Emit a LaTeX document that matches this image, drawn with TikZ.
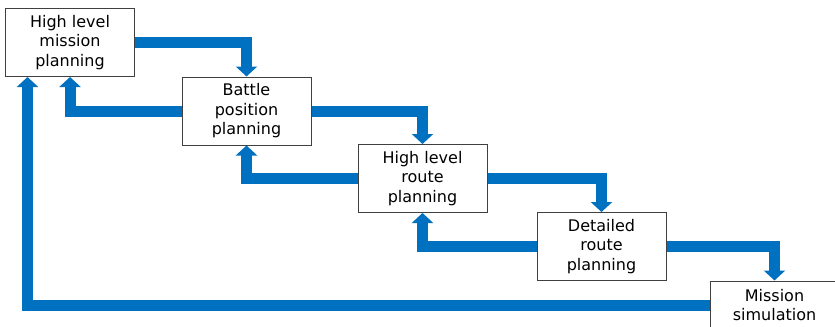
\documentclass[tikz,border=0pt]{standalone}
\usepackage{fontspec}
\setmainfont{DejaVu Sans}
\usepackage{xcolor}
\usetikzlibrary{arrows.meta}
\definecolor{flowblue}{RGB}{0,112,192}

\begin{document}
\begin{tikzpicture}[x=0.75pt,y=-0.75pt,>={Triangle[width=15.75pt,length=7.5pt]}]
\tikzstyle{block} = [draw = black!75, line width=0.75pt, fill=white, align=center, minimum width=96.75pt, minimum height=51pt, inner sep=2pt, font=\fontsize{12}{14.6}\selectfont]
\tikzstyle{flow} = [draw = flowblue, line width=8.25pt, ->, to path={-| (\tikztotarget)}]

\clip (0,0) rectangle (835,326);

\node[block]    (1) at (70,42.5)     {High level\\mission\\planning};
\node[block]    (2) at (246.5,111)   {Battle\\position\\planning};
\node[block]    (3) at (422.5,178.5) {High level\\route\\planning};
\node[block]    (4) at (601.5,246.5) {Detailed\\route\\planning};
\node[block, minimum height=36pt] (5) at (774.5,305) {Mission\\simulation};
\coordinate     (6) at (27.5,77);

\path
(1) edge[flow] (2)
(2) edge[flow] (1)
    edge[flow] (3)
(3) edge[flow] (2)
    edge[flow] (4)
(4) edge[flow] (3)
    edge[flow] (5)
(5) edge[flow] (6);
\end{tikzpicture}
\end{document}
